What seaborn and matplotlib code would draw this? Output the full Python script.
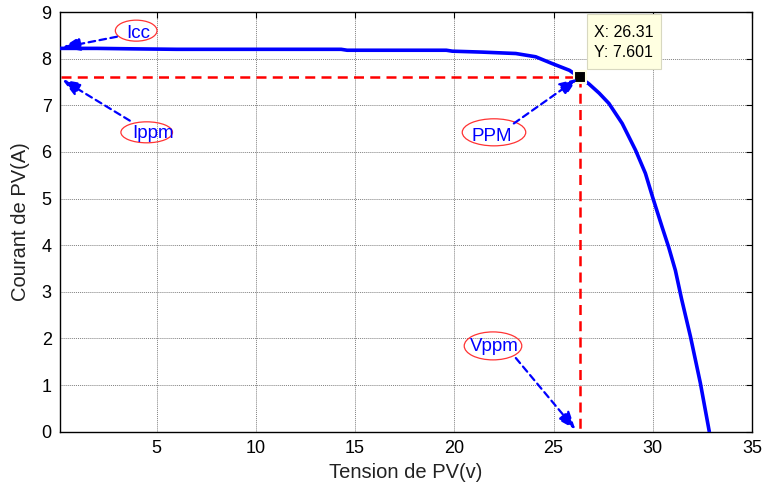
import matplotlib
matplotlib.use("Agg")
import matplotlib.pyplot as plt
from matplotlib.patches import Ellipse, Rectangle
import seaborn as sns
import pandas as pd

# I-V characteristic of the PV module
tension = [0.13, 2.0, 3.8, 6.0, 10.0, 14.3, 14.6, 17.0, 19.6, 19.9, 21.4, 23.1,
           24.1, 24.9, 25.8, 26.31, 26.78, 27.3, 27.79, 28.46, 29.13, 29.63,
           30.0, 30.47, 30.8, 31.14, 31.45, 31.9, 32.4, 32.85]
courant = [8.22, 8.22, 8.21, 8.20, 8.20, 8.20, 8.18, 8.18, 8.18, 8.16, 8.14, 8.11,
           8.04, 7.90, 7.75, 7.601, 7.46, 7.26, 7.04, 6.61, 6.04, 5.54,
           5.02, 4.39, 3.96, 3.46, 2.85, 2.04, 1.04, 0.0]

# Maximum power point
v_ppm = 26.31
i_ppm = 7.601

x_ticks = [5, 10, 15, 20, 25, 30, 35]
y_ticks = [0, 1, 2, 3, 4, 5, 6, 7, 8, 9]

sns.set_theme(style="white")
plt.rcParams["font.family"] = ["Liberation Sans", "DejaVu Sans"]

df = pd.DataFrame({"V": tension, "I": courant})

fig = plt.figure(figsize=(7.66, 4.94), dpi=100)
ax = fig.add_axes([0.0783, 0.1261, 0.9034, 0.8496])

sns.lineplot(data=df, x="V", y="I", sort=False, estimator=None,
             color="#0000ff", linewidth=2.6, ax=ax, zorder=3)

# dashed guides to the axes
ax.plot([0.2, v_ppm], [i_ppm, i_ppm], color="#ff0000", lw=1.8,
        dashes=(4, 2.5), zorder=2)
ax.plot([v_ppm, v_ppm], [i_ppm, 0], color="#ff0000", lw=1.8,
        dashes=(4, 2.5), zorder=2)

# data tip marker and box
ax.plot([v_ppm], [i_ppm], marker="s", markersize=9, color="black",
        markeredgecolor="#ffffe1", markeredgewidth=1.5, zorder=5)
ax.add_patch(Rectangle((26.68, 7.77), 3.72, 1.18, facecolor="#ffffe1",
                       edgecolor="#d8d8c0", linewidth=0.8, zorder=6))
ax.text(27.03, 8.35, f"X: {v_ppm}\nY: {i_ppm}", fontsize=11.5, color="black",
        linespacing=1.45, va="center", ha="left", zorder=7)

ax.set_xlim(0.13, 35)
ax.set_ylim(0, 9)
ax.set_xticks(x_ticks)
ax.set_yticks(y_ticks)
ax.tick_params(axis="both", direction="in", length=4, width=0.8,
               labelsize=13, colors="black", top=True, right=True,
               pad=6)
ax.grid(True, color="#808080", linestyle=(0, (1, 1)), linewidth=0.7)
for s in ax.spines.values():
    s.set_color("black")
    s.set_linewidth(1.0)

ax.set_xlabel("Tension de PV(v)", fontsize=14.5, color="#222222", labelpad=4)
ax.set_ylabel("Courant de PV(A)", fontsize=14.5, color="#222222", labelpad=8)


def label(text, cx, cy, w, h, tx, ty):
    ax.add_patch(Ellipse((cx, cy), w, h, fill=False, edgecolor="#ff3333",
                         linewidth=0.9, zorder=6))
    ax.text(tx, ty, text, fontsize=13.5, color="#0000ff", ha="center",
            va="center", zorder=7)


def arrow(x0, y0, x1, y1):
    ax.annotate("", xy=(x1, y1), xytext=(x0, y0),
                arrowprops=dict(arrowstyle="-|>,head_length=0.9,head_width=0.35",
                                color="#0000ff", lw=1.6, linestyle=(0, (3, 2)),
                                shrinkA=0, shrinkB=0),
                zorder=7)


# annotations (data coordinates)
label("Icc", 3.97, 8.60, 2.1, 0.45, 4.05, 8.53)
arrow(3.0, 8.47, 0.25, 8.24)

label("Ippm", 4.5, 6.42, 2.6, 0.45, 4.8, 6.40)
arrow(3.65, 6.67, 0.25, 7.55)

label("PPM", 22.0, 6.42, 3.2, 0.58, 21.9, 6.32)
arrow(23.0, 6.61, 26.2, 7.57)

label("Vppm", 21.95, 1.84, 2.9, 0.6, 22.0, 1.82)
arrow(23.1, 1.58, 26.1, 0.05)

fig.savefig("out.png", dpi=100)
